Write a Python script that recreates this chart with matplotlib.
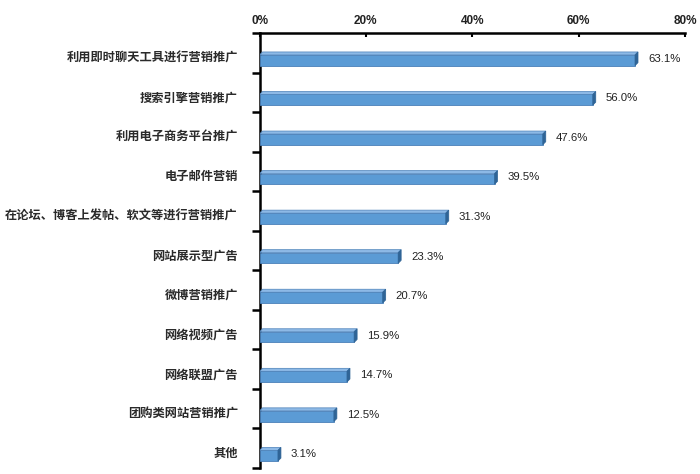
import matplotlib
matplotlib.use("Agg")
import matplotlib.pyplot as plt
from matplotlib.patches import Polygon
import numpy as np

categories = ["利用即时聊天工具进行营销推广", "搜索引擎营销推广", "利用电子商务平台推广", "电子邮件营销",
              "在论坛、博客上发帖、软文等进行营销推广", "网站展示型广告", "微博营销推广", "网络视频广告",
              "网络联盟广告", "团购类网站营销推广", "其他"]
values = [63.1, 56.0, 47.6, 39.5, 31.3, 23.3, 20.7, 15.9, 14.7, 12.5, 3.1]
tick_labels = ["0%", "20%", "40%", "60%", "80%"]
axis_max = 71.5  # data value reached at the right end of the drawn axis

W, H = 700, 474
fig = plt.figure(figsize=(7.0, 4.74), dpi=100)
ax = fig.add_axes([259.5 / W, 1 - 468 / H, (685 - 259.5) / W, (468 - 33) / H])

n = len(categories)
pos = np.arange(n)
bar_h = 0.27
bar_off = 0.19
face = "#5B9BD5"
top_c = "#8DB9E6"
side_c = "#2F6496"
edge = "#4A80B8"

bars = ax.barh(pos + bar_off, values, height=bar_h, color=face, edgecolor=edge, linewidth=0.6, zorder=3)

# pseudo-3D depth (in data units derived from pixel sizes)
px_x = axis_max / (685 - 259.5)
px_y = 1.0 / ((468 - 33) / n)
dx, dy = 3 * px_x, 3 * px_y
for b in bars:
    x0, w = b.get_x(), b.get_width()
    yb = b.get_y()          # numerically smaller -> visually top (inverted axis)
    hh = b.get_height()
    top = Polygon([(x0, yb), (x0 + dx, yb - dy), (x0 + w + dx, yb - dy), (x0 + w, yb)],
                  closed=True, facecolor=top_c, edgecolor=edge, linewidth=0.5, zorder=3)
    side = Polygon([(x0 + w, yb), (x0 + w + dx, yb - dy), (x0 + w + dx, yb + hh - dy), (x0 + w, yb + hh)],
                   closed=True, facecolor=side_c, edgecolor=side_c, linewidth=0.5, zorder=3)
    ax.add_patch(top)
    ax.add_patch(side)
    ax.annotate(f"{b.get_width():.1f}%", xy=(x0 + w, yb + hh / 2 - dy / 2),
                xytext=(13, 0), textcoords="offset pixels", va="center", ha="left",
                fontsize=8.2, family=["Liberation Sans", "DejaVu Sans"], color="#222222")

ax.set_xlim(0, axis_max)
ax.set_ylim(n - 0.5, -0.5)

ax.xaxis.tick_top()
ax.set_xticks(np.linspace(0, axis_max, len(tick_labels)))
ax.set_xticklabels(tick_labels, family=["Liberation Sans", "DejaVu Sans"], fontsize=8.5,
                   color="#222222", fontweight="bold")
ax.tick_params(axis="x", which="major", direction="in", length=3, width=1.5, pad=4, colors="black",
               labelcolor="#222222")

ax.set_yticks(pos + 0.1)
ax.set_yticklabels(categories, family=["Noto Sans CJK SC", "DejaVu Sans"], fontsize=8.8,
                   color="#2a2a2a", fontweight="bold")
ax.tick_params(axis="y", which="major", length=0, pad=15.5)
ax.set_yticks(np.arange(n + 1) - 0.5, minor=True)
ax.tick_params(axis="y", which="minor", direction="out", length=6, width=1.8, color="black")

for s in ["right", "bottom"]:
    ax.spines[s].set_visible(False)
ax.spines["left"].set_linewidth(1.8)
ax.spines["top"].set_linewidth(1.8)
ax.set_facecolor("white")

fig.savefig("out.png", dpi=100, facecolor="white")
